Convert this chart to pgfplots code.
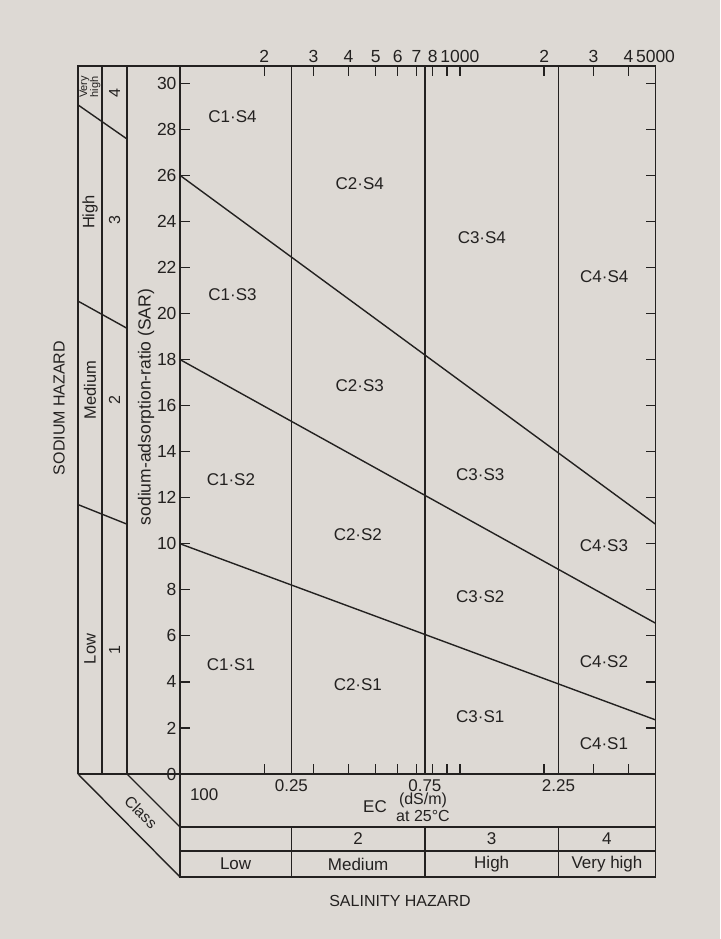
\documentclass[border=0pt]{standalone}
\usepackage{fontspec}
\setmainfont{Liberation Sans}
\usepackage{pgfplots}
\pgfplotsset{compat=1.18}
\definecolor{ink}{RGB}{35,33,32}
\definecolor{paper}{RGB}{221,217,212}
\newcommand{\fs}[1]{\fontsize{#1}{#1}\selectfont}
\begin{document}
\begin{tikzpicture}
\fill[paper] (0pt,0pt) rectangle (720pt,939pt);
\begin{axis}[
  at={(180pt,165pt)}, anchor=south west, scale only axis,
  width=475.5pt, height=708pt,
  xmode=log, xmin=100, xmax=5000, ymin=0, ymax=30.75,
  clip=false,
  axis line style={ink, line width=1.4pt},
  xtick={200,300,400,500,600,700,800,900,1000,2000,3000,4000,5000},
  xticklabels={2,3,4,5,6,7,8,,1000,2,3,4,5000},
  xticklabel pos=right,
  xtick pos=both, ytick pos=both,
  xminorticks=false, yminorticks=false,
  ytick={0,2,...,30},
  yticklabels={0,2,4,6,8,10,12,14,16,18,20,22,24,26,28,30},
  tick align=inside,
  major tick length=10pt,
  tick style={ink, line width=1.3pt},
  ticklabel style={font=\fs{17.5}, text=ink},
  /pgf/number format/assume math mode=true,
]
% sodium hazard boundaries
\addplot[ink, line width=1.4pt] coordinates {(100,26) (5000,10.85)};
\addplot[ink, line width=1.4pt] coordinates {(100,18) (5000,6.55)};
\addplot[ink, line width=1.4pt] coordinates {(100,10) (5000,2.35)};
% salinity hazard boundaries
\addplot[ink, line width=1.4pt] coordinates {(250,0) (250,30.75)};
\addplot[ink, line width=1.4pt] coordinates {(750,0) (750,30.75)};
\addplot[ink, line width=1.4pt] coordinates {(2250,0) (2250,30.75)};
% EC labels
\node[font=\fs{17}, text=ink, yshift=-12pt] at (axis cs:250,0) {0.25};
\node[font=\fs{17}, text=ink, yshift=-12pt] at (axis cs:750,0) {0.75};
\node[font=\fs{17}, text=ink, yshift=-12pt] at (axis cs:2250,0) {2.25};
% class numbers and names
\node[font=\fs{17}, text=ink, yshift=-65pt] at (axis cs:433,0) {2};
\node[font=\fs{17}, text=ink, yshift=-65pt] at (axis cs:1299,0) {3};
\node[font=\fs{17}, text=ink, yshift=-65pt] at (axis cs:3354,0) {4};
\node[font=\fs{17}, text=ink, yshift=-90pt] at (axis cs:158,0) {Low};
\node[font=\fs{17}, text=ink, yshift=-90pt] at (axis cs:433,0) {Medium};
\node[font=\fs{17}, text=ink, yshift=-90pt] at (axis cs:1299,0) {High};
\node[font=\fs{17}, text=ink, yshift=-90pt] at (axis cs:3354,0) {Very high};
% region labels
\node[font=\fs{17}, text=ink] at (axis cs:154,28.57) {C1·S4};
\node[font=\fs{17}, text=ink] at (axis cs:439,25.66) {C2·S4};
\node[font=\fs{17}, text=ink] at (axis cs:1198,23.3) {C3·S4};
\node[font=\fs{17}, text=ink] at (axis cs:3280,21.6) {C4·S4};
\node[font=\fs{17}, text=ink] at (axis cs:154,20.83) {C1·S3};
\node[font=\fs{17}, text=ink] at (axis cs:439,16.88) {C2·S3};
\node[font=\fs{17}, text=ink] at (axis cs:1182,13.0) {C3·S3};
\node[font=\fs{17}, text=ink] at (axis cs:3270,9.9) {C4·S3};
\node[font=\fs{17}, text=ink] at (axis cs:152,12.8) {C1·S2};
\node[font=\fs{17}, text=ink] at (axis cs:432,10.4) {C2·S2};
\node[font=\fs{17}, text=ink] at (axis cs:1182,7.7) {C3·S2};
\node[font=\fs{17}, text=ink] at (axis cs:3270,4.9) {C4·S2};
\node[font=\fs{17}, text=ink] at (axis cs:152,4.76) {C1·S1};
\node[font=\fs{17}, text=ink] at (axis cs:432,3.9) {C2·S1};
\node[font=\fs{17}, text=ink] at (axis cs:1182,2.5) {C3·S1};
\node[font=\fs{17}, text=ink] at (axis cs:3270,1.3) {C4·S1};
\end{axis}
\begin{scope}[x=1pt, y=1pt, ink, line width=1.4pt]
 % left sodium hazard panel
 \draw (78,165) -- (78,873) -- (180,873);
 \draw (102,165) -- (102,873);
 \draw (127,165) -- (127,873);
 \draw (78,165) -- (180,165);
 \draw (78,834.1) -- (127,800.0);
 \draw (78,637.9) -- (127,610.7);
 \draw (78,434.4) -- (127,414.8);
 % class band
 \draw (78,165) -- (180,62);
 \draw (127,165) -- (180,112);
 \node[rotate=-45, font=\fs{15.5}, inner sep=1pt] at (141,127) {Class};
 % bottom panel
 \draw (180,165) -- (180,62) -- (655.5,62) -- (655.5,165);
 \draw (180,112) -- (655.5,112);
 \draw (180,88) -- (655.5,88);
 \draw (291.4,112) -- (291.4,62);
 \draw (424.9,112) -- (424.9,62);
 \draw (558.6,112) -- (558.6,62);
 % left texts
 \node[rotate=90, align=center, font=\fs{11}, inner sep=0pt] at (90,852) {Very\\high};
 \node[rotate=90, font=\fs{16}] at (114.5,846) {4};
 \node[rotate=90, font=\fs{16.5}] at (90,727) {High};
 \node[rotate=90, font=\fs{16}] at (114.5,719) {3};
 \node[rotate=90, font=\fs{16.5}] at (90,549) {Medium};
 \node[rotate=90, font=\fs{16}] at (114.5,539) {2};
 \node[rotate=90, font=\fs{16.5}] at (90,290) {Low};
 \node[rotate=90, font=\fs{16}] at (114.5,289) {1};
 \node[rotate=90, font=\fs{17.5}] at (146,532) {sodium-adsorption-ratio (SAR)};
 \node[rotate=90, font=\fs{16}] at (59,531) {SODIUM HAZARD};
 % EC panel texts
 \node[anchor=west, font=\fs{17}] at (186,144) {100};
 \node[font=\fs{17}] at (375,132.3) {EC};
 \node[font=\fs{16}] at (423,138.5) {(dS/m)};
 \node[font=\fs{16}] at (423,123) {at 25°C};
 \node[font=\fs{16}] at (400,38) {SALINITY HAZARD};
\end{scope}
\pgfresetboundingbox
\useasboundingbox (0pt,0pt) rectangle (720pt,939pt);
\end{tikzpicture}
\end{document}
